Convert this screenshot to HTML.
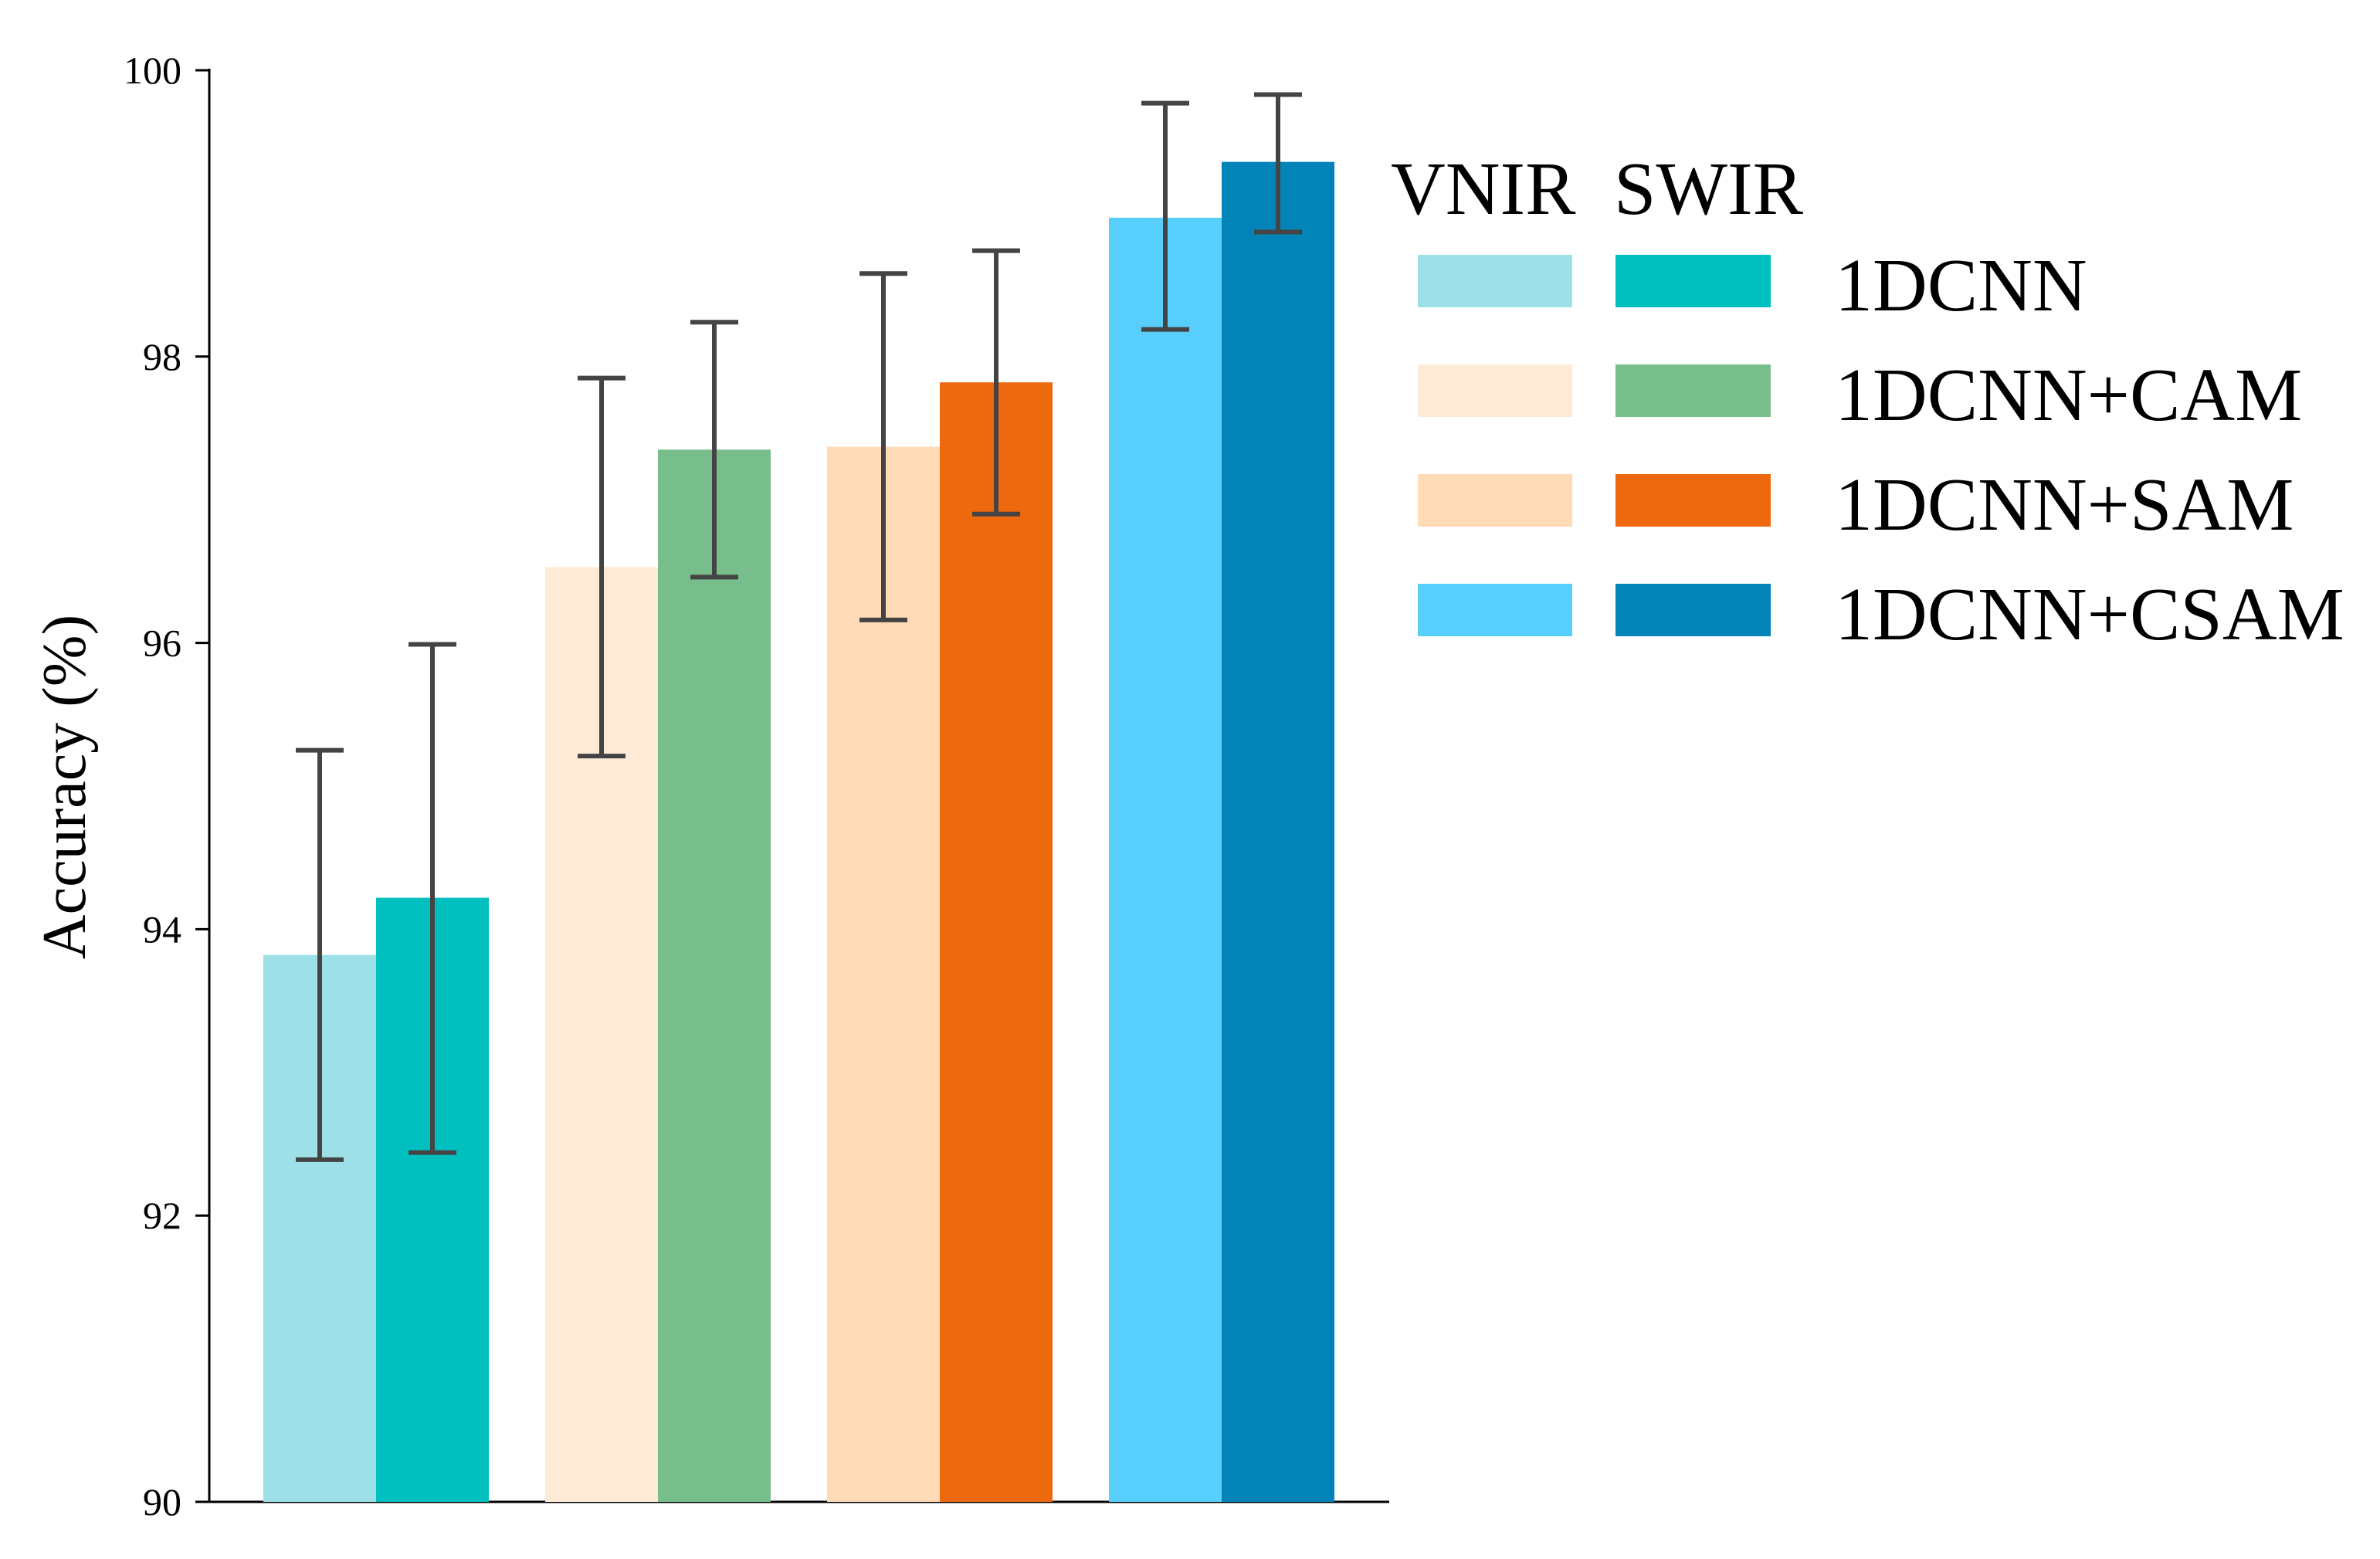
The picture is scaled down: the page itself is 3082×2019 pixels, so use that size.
<!DOCTYPE html>
<html><head><meta charset="utf-8"><style>
html,body{margin:0;padding:0;background:#fff;}
svg{display:block;font-family:"Liberation Serif",serif;}
</style></head><body>
<svg id="chart" width="3082" height="2019" viewBox="0 0 3082 2019" xmlns="http://www.w3.org/2000/svg">
<g id="axes"></g>
<g id="bars"></g>
<g id="errs"></g>
<text x="0" y="0" font-size="80" text-anchor="middle" transform="translate(110,1019) rotate(-90)">Accuracy (%)</text>
<g id="legend">
<text x="1801" y="277" font-size="98">VNIR</text>
<text x="2090" y="277" font-size="98">SWIR</text>
</g>
</svg>
<script>
const categories = ["1DCNN","1DCNN+CAM","1DCNN+SAM","1DCNN+CSAM"];
const vnirValues = [93.82, 96.53, 97.37, 98.97];
const swirValues = [94.22, 97.35, 97.82, 99.36];
const vnirErrLow = [92.39, 95.21, 96.16, 98.19];
const vnirErrHigh = [95.25, 97.85, 98.58, 99.77];
const swirErrLow = [92.44, 96.46, 96.90, 98.87];
const swirErrHigh = [95.99, 98.24, 98.74, 99.83];
const yTicks = [90, 92, 94, 96, 98, 100];
const vnirColors = ["#9ee0e7","#fdebd7","#fedab7","#57cefc"];
const swirColors = ["#00bfbf","#78bd8c","#ee690d","#0284b8"];

const NS="http://www.w3.org/2000/svg";
const x0=271, x1=1799, yTop=91, yBot=1945, yMin=90, yMax=100;
const y=v=>yBot-(v-yMin)/(yMax-yMin)*(yBot-yTop);
const groupStart=487, groupStep=365, barW=146;
const gx=i=>groupStart+i*groupStep;
function mk(tag,attrs,parent){const e=document.createElementNS(NS,tag);for(const k in attrs)e.setAttribute(k,attrs[k]);parent.appendChild(e);return e;}
const axes=document.getElementById('axes'),bars=document.getElementById('bars'),errs=document.getElementById('errs'),legend=document.getElementById('legend');

let l=mk('line',{x1:x0,y1:yTop-2,x2:x0,y2:yBot+1.5,stroke:'#000','stroke-width':3},axes);


l=mk('line',{x1:x0-1.5,y1:yBot,x2:x1,y2:yBot,stroke:'#000','stroke-width':3},axes);


yTicks.forEach(t=>{
  const tk=mk('line',{x1:x0-18,y1:y(t),x2:x0,y2:y(t),stroke:'#000','stroke-width':3},axes);
  
  
  const tx=mk('text',{x:x0-36,y:y(t)+17,'font-size':50,'text-anchor':'end'},axes);
  tx.textContent=t;
  
  
});

function errbar(cx,lo,hi,name){
  const g=mk('g',{stroke:'#444','stroke-width':6},errs);
  
  
  mk('line',{x1:cx,y1:y(lo),x2:cx,y2:y(hi)},g);
  mk('line',{x1:cx-31,y1:y(lo),x2:cx+31,y2:y(lo)},g);
  mk('line',{x1:cx-31,y1:y(hi),x2:cx+31,y2:y(hi)},g);
}
categories.forEach((c,i)=>{
  const cx=gx(i);
  const key=c.toLowerCase().replace(/\+/g,'-');
  const b1=mk('rect',{x:cx-barW,y:y(vnirValues[i]),width:barW,height:yBot-y(vnirValues[i]),fill:vnirColors[i]},bars);
  
  
  const b2=mk('rect',{x:cx,y:y(swirValues[i]),width:barW,height:yBot-y(swirValues[i]),fill:swirColors[i]},bars);
  
  
  errbar(cx-barW/2,vnirErrLow[i],vnirErrHigh[i],'error-bar-vnir-'+key);
  errbar(cx+barW/2,swirErrLow[i],swirErrHigh[i],'error-bar-swir-'+key);
  const ry=330+i*142;
  const p1=mk('rect',{x:1836,y:ry,width:200,height:68,fill:vnirColors[i]},legend);
  
  
  const p2=mk('rect',{x:2092,y:ry,width:201,height:68,fill:swirColors[i]},legend);
  
  
  const t=mk('text',{x:2376,y:ry+72,'font-size':98},legend);
  t.textContent=c;
  
  
});
</script>
</body></html>
